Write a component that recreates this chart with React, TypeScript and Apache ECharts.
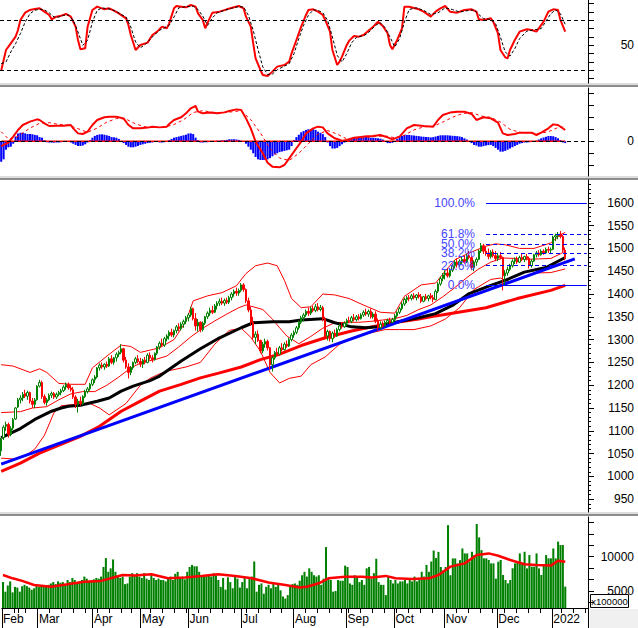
import React, { useEffect, useRef } from "react";
import * as echarts from "echarts";

const FONT = "Liberation Sans, Arial, sans-serif";

// ---- calendar (trading days per month) ----
const monthNames = ["Feb", "Mar", "Apr", "May", "Jun", "Jul", "Aug", "Sep", "Oct", "Nov", "Dec", "2022"];
const monthNums = [2, 3, 4, 5, 6, 7, 8, 9, 10, 11, 12, 1];
const monthYears = [2021, 2021, 2021, 2021, 2021, 2021, 2021, 2021, 2021, 2021, 2021, 2022];
const tradingDays = [
  [1, 2, 3, 4, 5, 8, 9, 17, 18, 19, 22, 23, 24, 25, 26],
  [1, 2, 3, 4, 5, 8, 9, 10, 11, 12, 15, 16, 17, 18, 19, 22, 23, 24, 25, 26, 29, 30, 31],
  [1, 2, 5, 6, 7, 8, 9, 12, 13, 14, 15, 16, 19, 20, 22, 23, 26, 27, 28, 29],
  [4, 5, 6, 7, 10, 11, 12, 13, 14, 17, 18, 19, 20, 21, 24, 25, 26, 27, 28, 31],
  [1, 2, 3, 4, 7, 8, 9, 10, 11, 14, 15, 16, 17, 18, 21, 22, 23, 24, 25, 28, 29, 30],
  [1, 2, 5, 6, 7, 8, 9, 12, 13, 14, 15, 16, 19, 20, 21, 22, 23, 26, 27, 28, 29, 30],
  [2, 3, 4, 5, 6, 9, 10, 11, 12, 13, 16, 17, 18, 19, 20, 23, 24, 25, 26, 27, 30, 31],
  [1, 6, 7, 8, 9, 10, 13, 14, 15, 16, 17, 20, 21, 22, 23, 24, 27, 28, 29, 30],
  [1, 4, 5, 6, 7, 8, 11, 12, 13, 14, 15, 18, 19, 20, 21, 22, 25, 26, 27, 28, 29],
  [1, 2, 3, 4, 5, 8, 9, 10, 11, 12, 15, 16, 17, 18, 19, 22, 23, 24, 25, 26, 29, 30],
  [1, 2, 3, 6, 7, 8, 9, 10, 13, 14, 15, 16, 17, 20, 21, 22, 23, 24, 27, 28, 29, 30, 31],
  [4, 5, 6, 7, 10, 11, 12, 13, 14, 17, 18, 19, 20, 21, 24],
];

// ---- candles [open, close, low, high] ----
const febBars = [
  [1056, 1082, 1045, 1085], [1085, 1108, 1080, 1112], [1110, 1114, 1100, 1120], [1114, 1092, 1085, 1118],
  [1092, 1105, 1088, 1110], [1106, 1125, 1102, 1128], [1126, 1150, 1124, 1152], [1152, 1168, 1150, 1172],
  [1168, 1172, 1160, 1178], [1172, 1180, 1165, 1185], [1182, 1176, 1172, 1190], [1176, 1184, 1168, 1188],
  [1184, 1165, 1160, 1186], [1165, 1158, 1150, 1172], [1158, 1168, 1150, 1172],
];
const marBars = [
  [1168, 1198, 1166, 1200], [1198, 1206, 1195, 1212], [1206, 1175, 1170, 1210], [1175, 1162, 1158, 1180],
  [1162, 1168, 1155, 1172], [1168, 1178, 1165, 1182], [1178, 1182, 1172, 1186], [1182, 1174, 1170, 1185],
  [1174, 1180, 1170, 1184], [1180, 1184, 1176, 1188], [1184, 1188, 1178, 1192], [1188, 1196, 1185, 1200],
  [1196, 1202, 1190, 1206], [1202, 1194, 1190, 1206], [1194, 1190, 1186, 1200], [1190, 1174, 1170, 1196],
  [1174, 1158, 1150, 1178], [1158, 1165, 1140, 1170], [1165, 1160, 1155, 1175], [1160, 1175, 1156, 1178],
  [1175, 1186, 1172, 1190], [1186, 1192, 1182, 1196], [1192, 1202, 1188, 1205],
];
const aprBars = [
  [1202, 1212, 1198, 1215], [1212, 1218, 1205, 1222], [1218, 1238, 1215, 1240], [1238, 1244, 1232, 1248],
  [1244, 1240, 1236, 1250], [1240, 1246, 1234, 1248], [1246, 1242, 1238, 1252], [1242, 1258, 1240, 1262],
  [1258, 1250, 1246, 1266], [1250, 1260, 1245, 1262], [1260, 1268, 1252, 1272], [1268, 1272, 1262, 1276],
  [1272, 1280, 1268, 1290], [1280, 1255, 1250, 1282], [1255, 1240, 1236, 1262], [1240, 1228, 1215, 1248],
  [1228, 1238, 1222, 1242], [1238, 1250, 1234, 1252], [1250, 1258, 1246, 1262], [1258, 1252, 1248, 1266],
];
const mayBars = [
  [1252, 1246, 1240, 1260], [1246, 1255, 1238, 1258], [1255, 1250, 1246, 1262], [1250, 1266, 1248, 1270],
  [1266, 1260, 1256, 1272], [1260, 1256, 1250, 1266], [1256, 1270, 1254, 1272], [1270, 1284, 1266, 1286],
  [1284, 1292, 1278, 1296], [1292, 1288, 1285, 1302], [1288, 1302, 1284, 1306], [1302, 1308, 1296, 1312],
  [1308, 1316, 1300, 1320], [1316, 1310, 1306, 1324], [1310, 1320, 1305, 1322], [1320, 1328, 1314, 1332],
  [1328, 1324, 1318, 1336], [1324, 1334, 1320, 1338], [1334, 1340, 1326, 1344], [1340, 1348, 1334, 1352],
];
const junBars = [
  [1348, 1354, 1340, 1358], [1354, 1368, 1350, 1372], [1368, 1346, 1342, 1370], [1346, 1330, 1320, 1358],
  [1330, 1338, 1318, 1345], [1338, 1322, 1316, 1340], [1322, 1336, 1318, 1340], [1336, 1350, 1332, 1352],
  [1350, 1358, 1345, 1362], [1358, 1364, 1352, 1370], [1364, 1360, 1356, 1374], [1360, 1374, 1358, 1378],
  [1374, 1380, 1366, 1384], [1380, 1384, 1374, 1390], [1384, 1380, 1376, 1392], [1380, 1386, 1374, 1390],
  [1386, 1382, 1378, 1392], [1382, 1392, 1378, 1396], [1392, 1400, 1386, 1404], [1400, 1406, 1394, 1410],
  [1406, 1402, 1396, 1414], [1402, 1408, 1396, 1412],
];
const julBars = [
  [1408, 1420, 1404, 1424], [1420, 1410, 1405, 1424], [1410, 1385, 1380, 1412], [1385, 1365, 1360, 1392],
  [1365, 1338, 1330, 1372], [1338, 1305, 1300, 1350], [1305, 1312, 1290, 1318], [1312, 1298, 1295, 1320],
  [1298, 1275, 1270, 1300], [1275, 1290, 1270, 1295], [1290, 1296, 1282, 1302], [1296, 1282, 1276, 1300],
  [1282, 1245, 1235, 1284], [1245, 1260, 1230, 1264], [1260, 1272, 1256, 1275], [1272, 1268, 1264, 1282],
  [1268, 1282, 1266, 1286], [1282, 1278, 1274, 1292], [1278, 1290, 1276, 1294], [1290, 1286, 1282, 1298],
  [1286, 1300, 1284, 1304], [1300, 1310, 1296, 1314],
];
const augBars = [
  [1310, 1316, 1304, 1320], [1316, 1326, 1312, 1330], [1326, 1338, 1322, 1342], [1338, 1348, 1334, 1352],
  [1348, 1354, 1340, 1358], [1354, 1362, 1350, 1366], [1362, 1358, 1352, 1370], [1358, 1368, 1354, 1372],
  [1368, 1364, 1360, 1374], [1364, 1372, 1360, 1378], [1372, 1366, 1362, 1380], [1366, 1370, 1362, 1376],
  [1370, 1346, 1340, 1374], [1346, 1308, 1300, 1350], [1308, 1318, 1298, 1322], [1318, 1302, 1296, 1320],
  [1302, 1314, 1294, 1318], [1314, 1308, 1304, 1322], [1308, 1322, 1306, 1326], [1322, 1330, 1318, 1334],
  [1330, 1328, 1324, 1338], [1328, 1336, 1326, 1340],
];
const sepBars = [
  [1336, 1342, 1330, 1346], [1342, 1340, 1336, 1350], [1340, 1348, 1336, 1352], [1348, 1344, 1340, 1356],
  [1344, 1350, 1340, 1354], [1350, 1346, 1342, 1356], [1346, 1354, 1344, 1358], [1354, 1360, 1350, 1364],
  [1360, 1356, 1352, 1368], [1356, 1362, 1350, 1366], [1362, 1350, 1346, 1368], [1350, 1356, 1346, 1360],
  [1356, 1340, 1336, 1362], [1340, 1326, 1320, 1346], [1326, 1334, 1322, 1340], [1334, 1330, 1326, 1340],
  [1330, 1338, 1328, 1342], [1338, 1342, 1334, 1346], [1342, 1338, 1334, 1348], [1338, 1344, 1336, 1348],
];
const octBars = [
  [1344, 1352, 1340, 1356], [1352, 1360, 1348, 1362], [1360, 1368, 1356, 1372], [1368, 1378, 1364, 1382],
  [1378, 1388, 1374, 1392], [1388, 1392, 1380, 1396], [1392, 1390, 1384, 1398], [1390, 1396, 1386, 1400],
  [1396, 1392, 1388, 1402], [1392, 1398, 1386, 1400], [1398, 1394, 1390, 1404], [1394, 1384, 1380, 1400],
  [1384, 1394, 1382, 1396], [1394, 1390, 1386, 1400], [1390, 1396, 1384, 1398], [1396, 1392, 1388, 1402],
  [1392, 1388, 1382, 1398], [1388, 1406, 1386, 1410], [1406, 1422, 1402, 1426], [1422, 1434, 1418, 1438],
  [1434, 1442, 1428, 1446],
];
const novBars = [
  [1442, 1446, 1432, 1452], [1446, 1440, 1436, 1456], [1440, 1452, 1436, 1456], [1452, 1462, 1448, 1466],
  [1462, 1470, 1456, 1474], [1470, 1464, 1458, 1478], [1464, 1472, 1460, 1476], [1472, 1476, 1464, 1482],
  [1476, 1470, 1466, 1484], [1470, 1484, 1468, 1488], [1484, 1480, 1476, 1494], [1480, 1458, 1452, 1484],
  [1458, 1470, 1450, 1474], [1470, 1476, 1462, 1480], [1476, 1494, 1474, 1498], [1494, 1506, 1490, 1512],
  [1506, 1494, 1488, 1510], [1494, 1490, 1484, 1504], [1490, 1482, 1476, 1500], [1482, 1492, 1478, 1496],
  [1492, 1484, 1480, 1498], [1484, 1478, 1472, 1494],
];
const decBars = [
  [1478, 1484, 1472, 1490], [1484, 1480, 1476, 1492], [1480, 1440, 1408, 1482], [1440, 1446, 1420, 1452],
  [1446, 1454, 1440, 1460], [1454, 1462, 1450, 1466], [1462, 1472, 1458, 1476], [1472, 1476, 1466, 1480],
  [1476, 1470, 1466, 1482], [1470, 1480, 1468, 1484], [1480, 1476, 1472, 1488], [1476, 1482, 1470, 1484],
  [1482, 1478, 1474, 1488], [1478, 1462, 1456, 1482], [1462, 1472, 1458, 1476], [1472, 1486, 1470, 1488],
  [1486, 1490, 1480, 1494], [1490, 1486, 1482, 1496], [1486, 1494, 1484, 1498], [1494, 1490, 1486, 1498],
  [1490, 1498, 1488, 1502], [1498, 1496, 1490, 1504], [1496, 1498, 1490, 1502],
];
const janBars = [
  [1498, 1525, 1496, 1528], [1525, 1528, 1516, 1532], [1528, 1531, 1520, 1536], [1531, 1526, 1522, 1538],
  [1526, 1496, 1492, 1530], [1496, 1480, 1474, 1502],
];

// ---- overlays on price panel, [bar index, value] ----
const ma50 = [[0,1085],[8,1105],[14,1125],[21,1143],[25,1150],[28,1154],[33,1156],[40,1165],[45,1172],[50,1187],[55,1198],[62,1210],[66,1220],[75,1253],[83,1280],[91,1304],[100,1326],[105,1337],[113,1339],[120,1339],[125,1343],[134,1346],[139,1337],[146,1328],[152,1326],[157,1328],[163,1337],[167,1341],[174,1348],[181,1357],[188,1375],[195,1401],[204,1419],[210,1430],[218,1448],[227,1458],[235,1480]];
const ma100 = [[0,1011],[8,1029],[16,1051],[33,1088],[41,1110],[50,1143],[58,1165],[66,1187],[75,1202],[83,1216],[91,1227],[100,1240],[108,1256],[116,1268],[125,1287],[135,1304],[146,1319],[160,1334],[174,1345],[181,1352],[202,1370],[215,1390],[229,1408],[235,1419]];
const bbUpper = [[0,1245],[5,1242],[12,1228],[16,1236],[19,1228],[24,1204],[29,1202],[35,1202],[38,1238],[45,1268],[50,1288],[54,1285],[58,1272],[66,1282],[72,1300],[77,1340],[80,1385],[86,1396],[92,1403],[98,1418],[102,1445],[106,1462],[111,1468],[115,1462],[118,1430],[121,1390],[125,1370],[129,1372],[134,1400],[139,1398],[145,1390],[150,1378],[158,1360],[164,1358],[168,1395],[175,1420],[181,1424],[185,1450],[189,1475],[195,1490],[202,1505],[206,1510],[210,1508],[216,1500],[222,1500],[229,1512],[233,1530],[235,1535]];
const bbMiddle = [[0,1140],[8,1142],[13,1150],[19,1153],[24,1168],[29,1181],[34,1186],[39,1186],[44,1200],[49,1218],[54,1238],[59,1251],[64,1256],[69,1264],[74,1284],[79,1306],[84,1325],[89,1341],[94,1356],[99,1370],[102,1376],[105,1372],[109,1366],[113,1345],[116,1326],[119,1308],[124,1291],[129,1307],[134,1325],[139,1337],[144,1338],[149,1338],[154,1340],[159,1343],[164,1346],[169,1353],[174,1366],[179,1376],[184,1394],[189,1414],[194,1436],[199,1455],[204,1470],[209,1479],[214,1478],[219,1476],[224,1477],[229,1478],[233,1488],[235,1494]];
const bbLower = [[0,1040],[6,1038],[10,1045],[14,1060],[18,1090],[22,1140],[25,1155],[31,1158],[37,1160],[41,1150],[45,1135],[52,1160],[58,1200],[62,1215],[66,1225],[70,1232],[77,1240],[83,1250],[89,1290],[95,1320],[100,1325],[104,1305],[108,1275],[112,1228],[116,1205],[120,1215],[125,1220],[129,1245],[135,1262],[141,1290],[147,1305],[154,1315],[160,1322],[166,1322],[172,1322],[179,1330],[185,1345],[191,1370],[197,1410],[204,1432],[208,1435],[212,1425],[216,1435],[222,1446],[229,1447],[235,1455]];
const trendLine = [[0,1027],[239,1477]];
const fibLabels = ["100.0%", "61.8%", "50.0%", "38.2%", "23.6%", "0.0%"];
const fibPrices = [1600, 1531, 1510, 1489, 1462, 1420];

// ---- stochastic [index, value] ----
const stochK = [[0,19.6],[2,44.4],[4,52.4],[6,60.4],[7,68.4],[8,80.4],[10,89.2],[12,92.4],[14,93.6],[16,94.4],[18,90.4],[20,86.4],[21,81.2],[23,84.4],[25,85.6],[27,87.6],[29,84.4],[31,72.4],[32,56.4],[33,45.2],[35,46.4],[36,72.4],[38,92.4],[40,96.4],[43,93.2],[45,94.4],[47,91.6],[49,88.4],[52,82.4],[53,74.4],[54,62.4],[56,44.4],[58,50.4],[61,53.2],[63,62.4],[65,66.4],[67,72.4],[69,70.4],[70,76.4],[72,94.4],[73,97.2],[75,96.4],[77,95.6],[79,98.4],[81,96.4],[82,88.4],[84,80.4],[85,70.4],[86,77.2],[88,89.2],[91,90.4],[94,93.2],[97,95.6],[99,97.2],[101,94.4],[102,84.4],[104,72.4],[105,52.4],[106,34.4],[108,20.4],[109,14.4],[111,13.2],[113,18.4],[115,24.4],[118,26.4],[120,30.4],[121,40.4],[123,56.4],[125,72.4],[127,86.4],[128,92.4],[130,93.2],[132,90.4],[134,86.4],[135,80.4],[137,66.4],[138,44.4],[140,26.4],[141,30.4],[142,36.4],[144,50.4],[145,55.6],[147,61.2],[149,60.4],[151,62.4],[153,67.6],[155,72.4],[157,78.4],[159,73.2],[161,64.4],[162,50.4],[163,45.2],[165,56.4],[167,70.4],[168,96.4],[170,96.4],[174,93.2],[176,90.4],[179,84.4],[181,90.4],[183,94.4],[185,97.2],[187,90.4],[190,89.2],[193,92.4],[196,93.2],[198,90.4],[199,81.2],[201,80.4],[204,82.4],[205,78.4],[207,64.4],[208,44.4],[210,35.6],[211,34.4],[212,44.4],[214,56.4],[216,66.4],[219,69.2],[221,68.4],[223,66.4],[224,70.4],[226,78.4],[228,90.4],[230,93.2],[232,92.4],[233,80.4],[235,66.4]];
const stochD = [[0,28],[2,30],[4,42],[6,52],[8,64],[10,78],[12,88],[14,92],[16,93.5],[18,92.5],[20,89],[22,84],[24,84],[26,86],[28,86.5],[30,80],[32,66],[34,50],[36,56],[38,78],[40,92],[42,95],[44,94],[46,93],[48,90.5],[50,87],[52,84],[54,72],[56,54],[58,47],[60,51],[62,57],[64,63],[66,68],[68,71],[70,74],[72,84],[74,95],[76,96],[78,96.5],[80,97],[82,93],[84,85],[86,74],[88,83],[90,89],[93,92],[96,94.5],[99,96.5],[101,96],[103,86],[105,68],[107,45],[109,24],[111,15],[113,15.5],[115,20.5],[118,25],[120,28],[122,40],[124,58],[126,74],[128,86],[130,92.5],[132,92],[134,89],[136,80],[138,60],[140,38],[142,30],[144,40],[146,53],[148,59.5],[150,61],[152,63],[154,68],[156,74],[158,77],[160,71],[162,60],[164,48],[166,58],[168,78],[170,93],[173,95],[176,92],[179,87],[182,89],[185,95],[188,93],[191,90],[194,91.5],[197,92.5],[199,87],[201,82],[204,81],[206,76],[208,60],[210,42],[212,37],[214,46],[216,58],[219,67],[222,68.5],[225,70],[227,79],[229,88],[231,92.5],[233,88],[235,75]];

// ---- MACD ----
const macdLine = [[0,-4],[3,-1],[5,3.9],[7,9.4],[9,13.6],[12,16.4],[15,18.3],[16,17.75],[18,15],[20,12.75],[23,13],[26,13],[29,13.6],[30,10.8],[32,6.6],[34,6.1],[36,8],[38,13.6],[40,17.75],[43,20],[45,20.5],[48,20.5],[51,19.1],[53,13.6],[55,10.8],[58,10.8],[61,11.4],[63,12.2],[66,11.6],[69,12.2],[70,14.4],[72,17.75],[75,20],[77,23.3],[79,27.5],[81,29.4],[82,24.7],[84,23.3],[87,23.9],[90,23.3],[93,24.1],[95,25.3],[98,26.6],[100,26.1],[102,19.1],[104,10.8],[106,-0.3],[109,-10],[111,-17.8],[113,-21.1],[116,-21.7],[118,-19.75],[120,-14.2],[123,-5.8],[125,-0.3],[127,6.6],[130,10.8],[132,12.2],[134,11.6],[136,6.6],[139,2.5],[142,0.5],[144,1.1],[147,3],[151,3.9],[155,4.4],[158,5.3],[161,3.3],[163,1.6],[166,3.9],[169,10.8],[172,13.6],[176,12.75],[180,12.2],[182,17.75],[184,21.9],[187,23.9],[190,24.7],[193,24.7],[196,22.75],[198,17.75],[201,20],[204,19.1],[207,15.5],[209,6.6],[211,5.25],[214,6.1],[216,7.2],[221,7.2],[223,5.25],[225,7.2],[228,10.8],[230,14.1],[232,13.6],[235,9.4]];
const macdSignal = [[0,8],[3,2],[6,3],[9,7],[12,11],[16,15],[20,15.5],[24,14],[28,13.5],[32,10.5],[36,7.5],[40,11],[44,16],[48,19],[52,18.5],[56,14.5],[60,12],[64,11.5],[68,11.8],[72,14],[76,18],[80,24],[84,25.5],[88,24.2],[92,23.8],[96,24.5],[100,25.5],[104,18],[108,7],[112,-6],[116,-14],[120,-16],[124,-10],[128,-2],[132,6],[136,9],[140,6],[144,2],[148,2],[152,3.2],[156,4],[160,4.5],[164,3],[168,5],[172,9.5],[176,12],[180,12.5],[184,16],[188,20],[192,23],[196,24],[200,21],[204,20],[208,16],[212,10],[216,7.5],[220,7],[224,6.5],[228,8],[232,11.5],[235,12]];
const macdHist = [
  -17, -15, -7, -5, -4.5, -2, 3.9, 6.5, 7.2, 7.2,
  6.6, 6.1, 6.1, 5.8, 5.3, 5, 3.5, 3, 1, -0.8,
  -1, -1.1, -1.1, -1, -1, -0.8, -0.5, 0.3, 0, -1,
  -2, -3, -3.9, -3.9, -3.5, -2.5, -1, 1, 3, 4.5,
  5.3, 5.8, 5.8, 5.5, 5, 4.5, 3.5, 3.3, 3, 2,
  0, -1.5, -3, -4.5, -5, -5, -4.5, -3.8, -3, -2.5,
  -2, -1.5, -1.2, -1, -0.5, 0.2, -1, -1, -0.8, -0.3,
  1, 2, 3, 3.5, 4, 4.5, 5, 5.5, 6.5, 6.6,
  6, 3, 1, -1, -1, -0.8, -0.8, -0.5, -0.3, 0.3,
  0.5, 0.5, 0.8, 1, 1.2, 1.7, 1.7, 1.7, 1.5, 1.2,
  0.5, 0, -2, -4.5, -7, -10, -13, -15, -15.6, -15.6,
  -15.6, -15, -14, -12.5, -11, -10, -9, -8.5, -8, -7.5,
  -7, -4, 1, 3.5, 5.5, 7.5, 8.5, 9.5, 10, 10,
  10, 9.5, 8, 7, 6, 3.5, -1, -4, -6, -6,
  -5.5, -4, -2.5, -1, 1, 2, 2.5, 2.8, 3, 3,
  3.2, 3.5, 3.5, 3.3, 3, 3, 2.8, 2.5, 2.2, 1.5,
  -0.5, -1.5, -1.5, -1.2, -0.5, 2, 3.5, 4.5, 5.3, 5.3,
  5.3, 5, 4.8, 4.5, 4.3, 4, 3.8, 3.6, 3.5, 3.2,
  3.5, 4, 4.5, 5, 5, 5, 5, 4.8, 4.6, 4.5,
  4.3, 4, 3.5, 2.5, 1.5, 0, -1.5, -3, -3.5, -4.5,
  -4.5, -4, -3.5, -3.2, -3, -4, -5.5, -7, -8.6, -8.6,
  -8, -7, -6, -5, -4, -3, -2, -1.5, -1, -1,
  -0.8, -0.6, -0.3, 0.5, 1.5, 2.5, 3.2, 3.8, 4.4, 4.4,
  4.2, 3.5, 2.5, 1, -1, -1.5,
];

// ---- volume (x100000) ----
const volume = [
  6300, 4900, 5800, 6400, 4800, 5600, 5500, 4900, 5700, 5900, 5700, 5500, 5200, 5400, 5800,
  5600, 5700, 5800, 5700, 5900, 6100, 6300, 6000, 6400, 6200, 6300, 6000, 6600, 6300, 6900, 6600, 6300, 6400, 6600, 7100, 6800, 6400, 6600,
  6700, 6900, 6800, 7100, 8500, 9800, 7800, 8300, 9600, 7800, 7100, 6900, 7100, 6000, 6100, 7100, 7600, 7300, 7600, 7100,
  6900, 7600, 6800, 6600, 7300, 6900, 6600, 6800, 6600, 6600, 6400, 6800, 7100, 6600, 7500, 7800, 7000, 7100, 6700, 7800,
  8500, 8800, 8600, 8600, 7800, 7300, 7100, 7300, 7300, 7100, 7600, 7300, 6600, 5600, 6900, 5200, 7000, 6300, 5400, 7100, 6800, 5500,
  6300, 7100, 5400, 6800, 7100, 9300, 4900, 5900, 6100, 4600, 5600, 5900, 5400, 6100, 5600, 6000, 5100, 4200, 3900, 4400, 5600, 6000,
  6100, 5900, 6500, 7300, 7800, 7100, 8300, 7800, 7300, 7100, 7300, 5900, 6800, 11400, 6800, 6600, 4900, 5000, 6600, 6500, 6500, 8700,
  8500, 6100, 5900, 7300, 7100, 6300, 6600, 5900, 8300, 8500, 6800, 7600, 9700, 6300, 5900, 5900, 4400, 7100, 6600, 6100,
  6600, 6100, 6400, 6400, 6600, 6100, 6600, 6400, 7100, 6400, 6600, 7800, 7100, 8800, 7800, 9300, 10900, 9800, 10700, 8500, 8000,
  8500, 14600, 7300, 9750, 9750, 9030, 9500, 11200, 10480, 10480, 9280, 10720, 10240, 14770, 12820, 10960, 9760, 9760, 9520, 9030, 9030, 6800,
  9270, 9520, 7330, 6600, 6120, 6600, 8300, 9030, 9270, 10480, 9030, 10720, 8300, 10240, 8550, 8550, 10480, 8300, 7330, 8790, 10240, 9760, 9760,
  11200, 9760, 12200, 11700, 11700, 5630,
];
const volumeMA = [[0,7330],[4,6850],[8,6470],[13,5875],[20,5630],[27,5990],[34,6360],[41,6470],[45,6850],[50,7330],[55,7250],[62,7450],[69,6850],[76,6970],[83,7200],[90,7450],[97,7200],[104,6850],[111,6240],[118,5875],[124,5500],[127,5630],[132,6120],[136,6850],[143,7090],[150,7090],[154,6970],[160,7200],[164,6850],[171,6750],[178,6850],[182,7330],[187,8550],[193,9030],[198,10240],[203,10480],[207,10140],[212,9520],[218,8900],[223,8800],[229,8700],[232,9400],[235,9270]];

// ---- axis ticks ----
const stochTicks = [10, 20, 30, 40, 50, 60, 70, 80, 90, 100];
const stochLabels = [50];
const macdTicks = [-20, -10, 0, 10, 20, 30, 40];
const macdLabels = [0];
const priceTicks = [950, 1000, 1050, 1100, 1150, 1200, 1250, 1300, 1350, 1400, 1450, 1500, 1550, 1600];
const priceMinorTicks = [930, 940, 960, 970, 980, 990, 1010, 1020, 1030, 1040, 1060, 1070, 1080, 1090, 1110, 1120, 1130, 1140, 1160, 1170, 1180, 1190, 1210, 1220, 1230, 1240, 1260, 1270, 1280, 1290, 1310, 1320, 1330, 1340, 1360, 1370, 1380, 1390, 1410, 1420, 1430, 1440, 1460, 1470, 1480, 1490, 1510, 1520, 1530, 1540, 1560, 1570, 1580, 1590, 1610, 1620, 1630, 1640];
const volTicks = [3333, 5000, 6667, 8333, 10000, 11667, 13333, 15000];
const volLabels = [5000, 10000];

const pad = (n: number) => (n < 10 ? "0" + n : "" + n);

export default function App() {
  const ref = useRef<HTMLDivElement>(null);
  useEffect(() => {
    if (!ref.current) return;
    const chart = echarts.init(ref.current, null, { renderer: "svg" });

    const categories: string[] = [];
    const monthStart = new Map<number, string>();
    const weekStart = new Set<number>();
    let prev: Date | null = null;
    tradingDays.forEach((days, m) => {
      days.forEach((d, k) => {
        const idx = categories.length;
        if (k === 0) monthStart.set(idx, monthNames[m]);
        const dt = new Date(Date.UTC(monthYears[m], monthNums[m] - 1, d));
        if (prev) {
          const gap = (dt.getTime() - prev.getTime()) / 86400000;
          if (dt.getUTCDay() <= prev.getUTCDay() || gap >= 7) weekStart.add(idx);
        }
        prev = dt;
        categories.push(`${monthYears[m]}-${pad(monthNums[m])}-${pad(d)}`);
      });
    });

    const candles = [
      ...febBars, ...marBars, ...aprBars, ...mayBars, ...junBars, ...julBars,
      ...augBars, ...sepBars, ...octBars, ...novBars, ...decBars, ...janBars,
    ];
    const lastIdx = categories.length - 1;

    const grids = [
      { left: 0, right: 50, top: 0, height: 83 },
      { left: 0, right: 50, top: 88, height: 88 },
      { left: 0, right: 50, top: 180, height: 332 },
      { left: 0, right: 50, top: 517, height: 91 },
    ];
    const hiddenX = (g: number) => ({
      type: "category", gridIndex: g, data: categories, show: false, boundaryGap: true,
    });
    const axisText = { fontSize: 12, color: "#000", fontFamily: FONT };
    const rightY = (g: number, min: number, max: number, ticks: number[], labels: number[]) => ({
      type: "value", gridIndex: g, position: "right", min, max,
      axisLine: { show: true, lineStyle: { color: "#000", width: 1 } },
      axisTick: { show: true, customValues: ticks, length: 6, lineStyle: { color: "#000" } },
      axisLabel: {
        show: true, customValues: labels, align: "right", margin: 46,
        formatter: (v: number) => String(Math.round(v)), ...axisText,
      },
      splitLine: { show: false },
    });

    const thinLine = (name: string, data: number[][], color: string, width: number, xi: number, yi: number, type: any = "solid") => ({
      name, type: "line", xAxisIndex: xi, yAxisIndex: yi, data, symbol: "none", silent: true,
      lineStyle: { color, width, type }, z: 3,
    });

    const option: any = {
      animation: false,
      backgroundColor: "#ffffff",
      grid: grids,
      xAxis: [
        hiddenX(0), hiddenX(1), hiddenX(2),
        {
          type: "category", gridIndex: 3, data: categories, boundaryGap: true, position: "bottom",
          axisLine: { show: true, lineStyle: { color: "#000", width: 1 } },
          axisTick: { show: true, length: 20, interval: (i: number) => monthStart.has(i), lineStyle: { color: "#000" } },
          axisLabel: {
            show: true, interval: (i: number) => monthStart.has(i), align: "left", margin: 5,
            formatter: (_v: string, i: number) => monthStart.get(i) || "", ...axisText,
          },
          splitLine: { show: false },
        },
        {
          type: "category", gridIndex: 3, data: categories, boundaryGap: true, position: "bottom",
          axisLine: { show: false },
          axisTick: { show: true, length: 5, interval: (i: number) => weekStart.has(i), lineStyle: { color: "#000" } },
          axisLabel: { show: false },
          splitLine: { show: false },
        },
      ],
      yAxis: [
        rightY(0, 4.75, 104.4, stochTicks, stochLabels),
        rightY(1, -28.9, 44.4, macdTicks, macdLabels),
        rightY(2, 922, 1650, priceTicks, priceTicks),
        rightY(3, 2522, 15787, volTicks, volLabels),
        {
          type: "value", gridIndex: 2, position: "right", min: 922, max: 1650,
          axisLine: { show: false },
          axisTick: { show: true, customValues: priceMinorTicks, length: 3, lineStyle: { color: "#000" } },
          axisLabel: { show: false },
          splitLine: { show: false },
        },
      ],
      series: [
        // stochastic
        {
          ...thinLine("%K", stochK, "#ff0000", 2, 0, 0),
          markLine: {
            silent: true, symbol: ["none", "none"], label: { show: false },
            lineStyle: { color: "#000", width: 1, type: [4, 3] },
            data: [{ yAxis: 80 }, { yAxis: 20 }],
          },
        },
        thinLine("%D", stochD, "#000000", 1, 0, 0, [3, 2]),
        // MACD
        {
          name: "hist", type: "bar", xAxisIndex: 1, yAxisIndex: 1, data: macdHist, barWidth: "85%",
          itemStyle: { color: "#0000ff" }, silent: true,
          markLine: {
            silent: true, symbol: ["none", "none"], label: { show: false },
            lineStyle: { color: "#000", width: 1, type: [4, 3] },
            data: [{ yAxis: 0 }],
          },
        },
        thinLine("zero", [[0, 0], [235, 0]], "#ff0000", 1.5, 1, 1),
        thinLine("signal", macdSignal, "#ff0000", 1, 1, 1, [3, 3]),
        thinLine("macd", macdLine, "#ff0000", 2, 1, 1),
        // price
        thinLine("bbUpper", bbUpper, "#ff0000", 1, 2, 2),
        thinLine("bbMiddle", bbMiddle, "#ff0000", 1, 2, 2),
        thinLine("bbLower", bbLower, "#ff0000", 1, 2, 2),
        {
          name: "VNINDEX", type: "candlestick", xAxisIndex: 2, yAxisIndex: 2, data: candles, barWidth: 2,
          itemStyle: { color: "#ffffff", color0: "#ff0000", borderColor: "#008000", borderColor0: "#ff0000", borderWidth: 1 },
          silent: true, z: 3,
        },
        thinLine("ma100", ma100, "#ff0000", 3, 2, 2),
        thinLine("ma50", ma50, "#000000", 3, 2, 2),
        {
          ...thinLine("trend", trendLine, "#0000ff", 3, 2, 2),
          markLine: {
            silent: true, symbol: ["none", "none"],
            label: { show: true, position: "start", distance: 11, color: "#4646ff", fontSize: 12, fontFamily: FONT },
            data: fibPrices.map((p, k) => [
              {
                coord: [202, p],
                lineStyle: { color: "#0000ff", width: 1, type: k === 0 || k === fibPrices.length - 1 ? "solid" : [4, 3] },
                label: { formatter: fibLabels[k] },
              },
              { coord: [lastIdx, p] },
            ]),
          },
        },
        // volume
        {
          name: "volume", type: "bar", xAxisIndex: 3, yAxisIndex: 3, data: volume, barWidth: "85%",
          itemStyle: { color: "#008000" }, silent: true,
        },
        thinLine("volMA", volumeMA, "#ff0000", 2.5, 3, 3),
      ],
      graphic: [
        { type: "rect", shape: { x: 0, y: 83, width: 638, height: 2 }, style: { fill: "#dcdcdc" }, silent: true },
        { type: "rect", shape: { x: 0, y: 85, width: 638, height: 2 }, style: { fill: "#8c8c8c" }, silent: true },
        { type: "rect", shape: { x: 0, y: 176, width: 638, height: 2 }, style: { fill: "#dcdcdc" }, silent: true },
        { type: "rect", shape: { x: 0, y: 178, width: 638, height: 2 }, style: { fill: "#8c8c8c" }, silent: true },
        { type: "rect", shape: { x: 0, y: 512, width: 638, height: 2 }, style: { fill: "#dcdcdc" }, silent: true },
        { type: "rect", shape: { x: 0, y: 514, width: 638, height: 2 }, style: { fill: "#8c8c8c" }, silent: true },
        { type: "rect", shape: { x: 590, y: 609, width: 48, height: 19 }, style: { fill: "#f0f0f0" }, silent: true },
        {
          type: "group", z: 100, silent: true,
          children: [
            { type: "rect", shape: { x: 590.5, y: 594.5, width: 38, height: 13 }, style: { fill: "#ffffff", stroke: "#000", lineWidth: 1 } },
            { type: "text", x: 609.5, y: 601.5, style: { text: "x100000", fontSize: 9.5, fontFamily: FONT, fill: "#000", align: "center", verticalAlign: "middle" } },
          ],
        },
      ],
    };
    chart.setOption(option);
    return () => chart.dispose();
  }, []);

  return (
    <div
      ref={ref}
      style={{ position: "absolute", left: 0, top: 0, width: 638, height: 628, background: "#fff" }}
    />
  );
}
